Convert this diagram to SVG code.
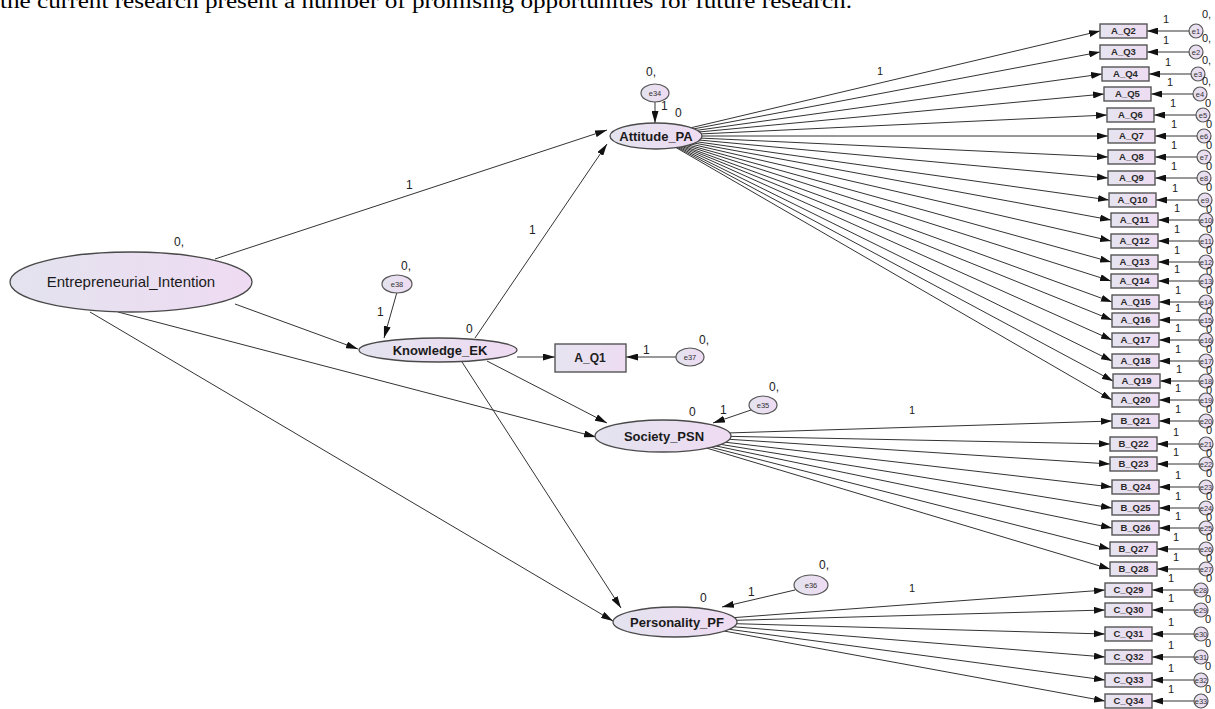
<svg xmlns="http://www.w3.org/2000/svg" width="1215" height="709" viewBox="0 0 1215 709">
<defs>
<linearGradient id="g" x1="0" y1="0" x2="1" y2="0"><stop offset="0" stop-color="#e3e3ee"/><stop offset="1" stop-color="#efdbf3"/></linearGradient>
<linearGradient id="gb" x1="0" y1="0" x2="1" y2="0"><stop offset="0" stop-color="#e6e4f0"/><stop offset="1" stop-color="#eedcf2"/></linearGradient>
<marker id="ah" viewBox="0 0 12 7" refX="12" refY="3.5" markerWidth="12" markerHeight="7" markerUnits="userSpaceOnUse" orient="auto"><path d="M0,0 L12,3.5 L0,7 z" fill="#111"/></marker>
<marker id="ahs" viewBox="0 0 11 7" refX="11" refY="3.5" markerWidth="11" markerHeight="7" markerUnits="userSpaceOnUse" orient="auto"><path d="M0,0 L11,3.5 L0,7 z" fill="#111"/></marker>
</defs>
<style>
.lat{fill:url(#g);stroke:#4a4a4a;stroke-width:1.3}
.box{fill:url(#gb);stroke:#555;stroke-width:1.4}
.err{fill:url(#g);stroke:#555;stroke-width:1.2}
.c{stroke:#333;stroke-width:1;fill:none;marker-end:url(#ah)}
.cs{stroke:#333;stroke-width:1;fill:none;marker-end:url(#ahs)}
.lt{font-family:"Liberation Sans",Arial,sans-serif;font-weight:bold;font-size:13px;fill:#1a1a1a;text-anchor:middle}
.bt{font-family:"Liberation Sans",Arial,sans-serif;font-weight:bold;font-size:9.5px;fill:#2a2a2a;text-anchor:middle}
.et{font-family:"Liberation Sans",Arial,sans-serif;font-size:7.5px;fill:#333;text-anchor:middle}
.lb{font-family:"Liberation Sans",Arial,sans-serif;font-size:12px;fill:#222}
.lbs{font-family:"Liberation Sans",Arial,sans-serif;font-size:11px;fill:#222}
</style>
<rect width="1215" height="709" fill="#fff"/>
<text x="0" y="8" font-family="Liberation Serif,'Times New Roman',serif" font-size="20" fill="#000" textLength="852" lengthAdjust="spacingAndGlyphs">the current research present a number of promising opportunities for future research.</text>

<g id="connectors">
<line class="c" x1="215" y1="259" x2="607" y2="130"/>
<line class="c" x1="235" y1="304" x2="358" y2="349"/>
<line class="c" x1="118" y1="312" x2="596" y2="437"/>
<line class="c" x1="90" y1="312" x2="613" y2="621"/>
<line class="c" x1="475" y1="338" x2="607" y2="144"/>
<line class="c" x1="487" y1="361" x2="607" y2="423"/>
<line class="c" x1="462" y1="362" x2="621" y2="608"/>
<line class="c" x1="517" y1="357" x2="555" y2="357"/>
<line class="c" x1="676" y1="357" x2="626" y2="357"/>
<line class="c" x1="655" y1="102" x2="655" y2="123"/>
<line class="c" x1="397" y1="292" x2="384" y2="338"/>
<line class="c" x1="751" y1="410" x2="713" y2="423"/>
<line class="c" x1="795" y1="590" x2="722" y2="607"/>
<line class="cs" x1="656" y1="136" x2="1100" y2="31"/>
<line class="cs" x1="656" y1="136" x2="1100" y2="52"/>
<line class="cs" x1="656" y1="136" x2="1102" y2="74"/>
<line class="cs" x1="656" y1="136" x2="1104" y2="94"/>
<line class="cs" x1="656" y1="136" x2="1107" y2="115"/>
<line class="cs" x1="656" y1="136" x2="1108" y2="136"/>
<line class="cs" x1="656" y1="136" x2="1108" y2="157"/>
<line class="cs" x1="656" y1="136" x2="1108" y2="178"/>
<line class="cs" x1="656" y1="136" x2="1109" y2="200"/>
<line class="cs" x1="656" y1="136" x2="1111" y2="220"/>
<line class="cs" x1="656" y1="136" x2="1111" y2="241"/>
<line class="cs" x1="656" y1="136" x2="1111" y2="262"/>
<line class="cs" x1="656" y1="136" x2="1111" y2="281"/>
<line class="cs" x1="656" y1="136" x2="1112" y2="302"/>
<line class="cs" x1="656" y1="136" x2="1112" y2="320"/>
<line class="cs" x1="656" y1="136" x2="1112" y2="340"/>
<line class="cs" x1="656" y1="136" x2="1112" y2="361"/>
<line class="cs" x1="656" y1="136" x2="1113" y2="381"/>
<line class="cs" x1="656" y1="136" x2="1112" y2="400"/>
<line class="cs" x1="663" y1="435" x2="1112" y2="421"/>
<line class="cs" x1="663" y1="435" x2="1110" y2="444"/>
<line class="cs" x1="663" y1="435" x2="1110" y2="464"/>
<line class="cs" x1="663" y1="435" x2="1112" y2="487"/>
<line class="cs" x1="663" y1="435" x2="1112" y2="508"/>
<line class="cs" x1="663" y1="435" x2="1112" y2="528"/>
<line class="cs" x1="663" y1="435" x2="1110" y2="549"/>
<line class="cs" x1="663" y1="435" x2="1110" y2="569"/>
<line class="cs" x1="675" y1="622" x2="1105" y2="590"/>
<line class="cs" x1="675" y1="622" x2="1105" y2="610"/>
<line class="cs" x1="675" y1="622" x2="1105" y2="634"/>
<line class="cs" x1="675" y1="622" x2="1105" y2="657"/>
<line class="cs" x1="675" y1="622" x2="1105" y2="680"/>
<line class="cs" x1="675" y1="622" x2="1105" y2="701"/>
<line class="cs" x1="1196" y1="31" x2="1147" y2="31"/>
<line class="cs" x1="1196" y1="52" x2="1147" y2="52"/>
<line class="cs" x1="1198" y1="74" x2="1149" y2="74"/>
<line class="cs" x1="1200" y1="94" x2="1151" y2="94"/>
<line class="cs" x1="1203" y1="115" x2="1154" y2="115"/>
<line class="cs" x1="1204" y1="136" x2="1155" y2="136"/>
<line class="cs" x1="1204" y1="157" x2="1155" y2="157"/>
<line class="cs" x1="1204" y1="178" x2="1155" y2="178"/>
<line class="cs" x1="1205" y1="200" x2="1156" y2="200"/>
<line class="cs" x1="1207" y1="220" x2="1158" y2="220"/>
<line class="cs" x1="1207" y1="241" x2="1158" y2="241"/>
<line class="cs" x1="1207" y1="262" x2="1158" y2="262"/>
<line class="cs" x1="1207" y1="281" x2="1158" y2="281"/>
<line class="cs" x1="1207" y1="302" x2="1159" y2="302"/>
<line class="cs" x1="1207" y1="320" x2="1159" y2="320"/>
<line class="cs" x1="1207" y1="340" x2="1159" y2="340"/>
<line class="cs" x1="1207" y1="361" x2="1159" y2="361"/>
<line class="cs" x1="1207" y1="381" x2="1160" y2="381"/>
<line class="cs" x1="1207" y1="400" x2="1159" y2="400"/>
<line class="cs" x1="1207" y1="421" x2="1159" y2="421"/>
<line class="cs" x1="1206" y1="444" x2="1157" y2="444"/>
<line class="cs" x1="1206" y1="464" x2="1157" y2="464"/>
<line class="cs" x1="1207" y1="487" x2="1159" y2="487"/>
<line class="cs" x1="1207" y1="508" x2="1159" y2="508"/>
<line class="cs" x1="1207" y1="528" x2="1159" y2="528"/>
<line class="cs" x1="1206" y1="549" x2="1157" y2="549"/>
<line class="cs" x1="1206" y1="569" x2="1157" y2="569"/>
<line class="cs" x1="1201" y1="590" x2="1152" y2="590"/>
<line class="cs" x1="1201" y1="610" x2="1152" y2="610"/>
<line class="cs" x1="1201" y1="634" x2="1152" y2="634"/>
<line class="cs" x1="1201" y1="657" x2="1152" y2="657"/>
<line class="cs" x1="1201" y1="680" x2="1152" y2="680"/>
<line class="cs" x1="1201" y1="701" x2="1152" y2="701"/>
<text class="lb" x="406" y="189">1</text>
<text class="lb" x="529" y="234">1</text>
<text class="lbs" x="877" y="75">1</text>
<text class="lbs" x="909" y="414">1</text>
<text class="lbs" x="909" y="592">1</text>
<text class="lb" x="661" y="110">1</text>
<text class="lb" x="377" y="316">1</text>
<text class="lb" x="643" y="354">1</text>
<text class="lb" x="720" y="414">1</text>
<text class="lb" x="748" y="596">1</text>
</g>

<g id="EI"><ellipse class="lat" cx="131" cy="282" rx="121" ry="30"/><text x="131" y="287" font-family="Liberation Sans,Arial,sans-serif" font-size="15" fill="#1a1a1a" text-anchor="middle">Entrepreneurial_Intention</text><text class="lb" x="174" y="246">0,</text></g>
<g id="Attitude_PA"><ellipse class="lat" cx="656" cy="136" rx="46" ry="13"/><text class="lt" x="656" y="141">Attitude_PA</text><text class="lb" x="675" y="117">0</text></g>
<g id="Knowledge_EK"><ellipse class="lat" cx="438" cy="350" rx="79" ry="12"/><text class="lt" x="440" y="355">Knowledge_EK</text><text class="lb" x="466" y="333">0</text></g>
<g id="Society_PSN"><ellipse class="lat" cx="663" cy="436" rx="68" ry="16"/><text class="lt" x="664" y="441">Society_PSN</text><text class="lb" x="689" y="416">0</text></g>
<g id="Personality_PF"><ellipse class="lat" cx="675" cy="622" rx="62" ry="15"/><text class="lt" x="677" y="627">Personality_PF</text><text class="lb" x="700" y="602">0</text></g>
<g id="A_Q1"><rect class="box" x="555" y="344" width="71" height="28"/><text x="590" y="362" font-family="Liberation Sans,Arial,sans-serif" font-weight="bold" font-size="12" fill="#222" text-anchor="middle">A_Q1</text></g>
<g id="e34"><ellipse class="err" cx="655" cy="93" rx="14" ry="9"/><text class="et" x="655" y="96">e34</text><text class="lb" x="646" y="76">0,</text></g>
<g id="e38"><ellipse class="err" cx="397" cy="284" rx="15" ry="9"/><text class="et" x="397" y="287">e38</text><text class="lb" x="401" y="270">0,</text></g>
<g id="e37"><ellipse class="err" cx="690" cy="357" rx="14" ry="9"/><text class="et" x="690" y="360">e37</text><text class="lb" x="699" y="344">0,</text></g>
<g id="e35"><ellipse class="err" cx="763" cy="405" rx="14" ry="9"/><text class="et" x="763" y="408">e35</text><text class="lb" x="769" y="391">0,</text></g>
<g id="e36"><ellipse class="err" cx="811" cy="585" rx="17" ry="10"/><text class="et" x="811" y="588">e36</text><text class="lb" x="819" y="569">0,</text></g>

<g id="A_Q2"><rect class="box" x="1100" y="24" width="47" height="14"/><text class="bt" x="1123.5" y="34">A_Q2</text></g>
<g id="A_Q3"><rect class="box" x="1100" y="45" width="47" height="14"/><text class="bt" x="1123.5" y="55">A_Q3</text></g>
<g id="A_Q4"><rect class="box" x="1102" y="67" width="47" height="14"/><text class="bt" x="1125.5" y="77">A_Q4</text></g>
<g id="A_Q5"><rect class="box" x="1104" y="87" width="47" height="14"/><text class="bt" x="1127.5" y="97">A_Q5</text></g>
<g id="A_Q6"><rect class="box" x="1107" y="108" width="47" height="14"/><text class="bt" x="1130.5" y="118">A_Q6</text></g>
<g id="A_Q7"><rect class="box" x="1108" y="129" width="47" height="14"/><text class="bt" x="1131.5" y="139">A_Q7</text></g>
<g id="A_Q8"><rect class="box" x="1108" y="150" width="47" height="14"/><text class="bt" x="1131.5" y="160">A_Q8</text></g>
<g id="A_Q9"><rect class="box" x="1108" y="171" width="47" height="14"/><text class="bt" x="1131.5" y="181">A_Q9</text></g>
<g id="A_Q10"><rect class="box" x="1109" y="193" width="47" height="14"/><text class="bt" x="1132.5" y="203">A_Q10</text></g>
<g id="A_Q11"><rect class="box" x="1111" y="213" width="47" height="14"/><text class="bt" x="1134.5" y="223">A_Q11</text></g>
<g id="A_Q12"><rect class="box" x="1111" y="234" width="47" height="14"/><text class="bt" x="1134.5" y="244">A_Q12</text></g>
<g id="A_Q13"><rect class="box" x="1111" y="255" width="47" height="14"/><text class="bt" x="1134.5" y="265">A_Q13</text></g>
<g id="A_Q14"><rect class="box" x="1111" y="274" width="47" height="14"/><text class="bt" x="1134.5" y="284">A_Q14</text></g>
<g id="A_Q15"><rect class="box" x="1112" y="295" width="47" height="14"/><text class="bt" x="1135.5" y="305">A_Q15</text></g>
<g id="A_Q16"><rect class="box" x="1112" y="313" width="47" height="14"/><text class="bt" x="1135.5" y="323">A_Q16</text></g>
<g id="A_Q17"><rect class="box" x="1112" y="333" width="47" height="14"/><text class="bt" x="1135.5" y="343">A_Q17</text></g>
<g id="A_Q18"><rect class="box" x="1112" y="354" width="47" height="14"/><text class="bt" x="1135.5" y="364">A_Q18</text></g>
<g id="A_Q19"><rect class="box" x="1113" y="374" width="47" height="14"/><text class="bt" x="1136.5" y="384">A_Q19</text></g>
<g id="A_Q20"><rect class="box" x="1112" y="393" width="47" height="14"/><text class="bt" x="1135.5" y="403">A_Q20</text></g>
<g id="B_Q21"><rect class="box" x="1112" y="414" width="47" height="14"/><text class="bt" x="1135.5" y="424">B_Q21</text></g>
<g id="B_Q22"><rect class="box" x="1110" y="437" width="47" height="14"/><text class="bt" x="1133.5" y="447">B_Q22</text></g>
<g id="B_Q23"><rect class="box" x="1110" y="457" width="47" height="14"/><text class="bt" x="1133.5" y="467">B_Q23</text></g>
<g id="B_Q24"><rect class="box" x="1112" y="480" width="47" height="14"/><text class="bt" x="1135.5" y="490">B_Q24</text></g>
<g id="B_Q25"><rect class="box" x="1112" y="501" width="47" height="14"/><text class="bt" x="1135.5" y="511">B_Q25</text></g>
<g id="B_Q26"><rect class="box" x="1112" y="521" width="47" height="14"/><text class="bt" x="1135.5" y="531">B_Q26</text></g>
<g id="B_Q27"><rect class="box" x="1110" y="542" width="47" height="14"/><text class="bt" x="1133.5" y="552">B_Q27</text></g>
<g id="B_Q28"><rect class="box" x="1110" y="562" width="47" height="14"/><text class="bt" x="1133.5" y="572">B_Q28</text></g>
<g id="C_Q29"><rect class="box" x="1105" y="583" width="47" height="14"/><text class="bt" x="1128.5" y="593">C_Q29</text></g>
<g id="C_Q30"><rect class="box" x="1105" y="603" width="47" height="14"/><text class="bt" x="1128.5" y="613">C_Q30</text></g>
<g id="C_Q31"><rect class="box" x="1105" y="627" width="47" height="14"/><text class="bt" x="1128.5" y="637">C_Q31</text></g>
<g id="C_Q32"><rect class="box" x="1105" y="650" width="47" height="14"/><text class="bt" x="1128.5" y="660">C_Q32</text></g>
<g id="C_Q33"><rect class="box" x="1105" y="673" width="47" height="14"/><text class="bt" x="1128.5" y="683">C_Q33</text></g>
<g id="C_Q34"><rect class="box" x="1105" y="694" width="47" height="14"/><text class="bt" x="1128.5" y="704">C_Q34</text></g>

<g id="errors">
<g id="e1"><circle class="err" cx="1196" cy="31" r="7"/><text class="et" x="1196" y="34">e1</text><text class="lbs" x="1163" y="23">1</text><text class="lbs" x="1202" y="18">0,</text></g>
<g id="e2"><circle class="err" cx="1196" cy="52" r="7"/><text class="et" x="1196" y="55">e2</text><text class="lbs" x="1163" y="44">1</text><text class="lbs" x="1202" y="42">0,</text></g>
<g id="e3"><circle class="err" cx="1198" cy="74" r="7"/><text class="et" x="1198" y="77">e3</text><text class="lbs" x="1165" y="66">1</text><text class="lbs" x="1202" y="64">0,</text></g>
<g id="e4"><circle class="err" cx="1200" cy="94" r="7"/><text class="et" x="1200" y="97">e4</text><text class="lbs" x="1167" y="86">1</text><text class="lbs" x="1202" y="85">0,</text><text class="lbs" x="1205" y="107">0</text></g>
<g id="e5"><circle class="err" cx="1203" cy="115" r="7"/><text class="et" x="1203" y="118">e5</text><text class="lbs" x="1170" y="107">1</text><text class="lbs" x="1206" y="128">0</text></g>
<g id="e6"><circle class="err" cx="1204" cy="136" r="7"/><text class="et" x="1204" y="139">e6</text><text class="lbs" x="1171" y="128">1</text><text class="lbs" x="1206" y="149">0</text></g>
<g id="e7"><circle class="err" cx="1204" cy="157" r="7"/><text class="et" x="1204" y="160">e7</text><text class="lbs" x="1171" y="149">1</text><text class="lbs" x="1206" y="170">0</text></g>
<g id="e8"><circle class="err" cx="1204" cy="178" r="7"/><text class="et" x="1204" y="181">e8</text><text class="lbs" x="1171" y="170">1</text><text class="lbs" x="1206" y="191">0</text></g>
<g id="e9"><circle class="err" cx="1205" cy="200" r="7"/><text class="et" x="1205" y="203">e9</text><text class="lbs" x="1172" y="192">1</text><text class="lbs" x="1206" y="213">0</text></g>
<g id="e10"><circle class="err" cx="1206" cy="220" r="7"/><text class="et" x="1206" y="223">e10</text><text class="lbs" x="1174" y="212">1</text><text class="lbs" x="1206" y="233">0</text></g>
<g id="e11"><circle class="err" cx="1206" cy="241" r="7"/><text class="et" x="1206" y="244">e11</text><text class="lbs" x="1174" y="233">1</text><text class="lbs" x="1206" y="254">0</text></g>
<g id="e12"><circle class="err" cx="1206" cy="262" r="7"/><text class="et" x="1206" y="265">e12</text><text class="lbs" x="1174" y="254">1</text><text class="lbs" x="1206" y="275">0</text></g>
<g id="e13"><circle class="err" cx="1206" cy="281" r="7"/><text class="et" x="1206" y="284">e13</text><text class="lbs" x="1174" y="273">1</text><text class="lbs" x="1206" y="294">0</text></g>
<g id="e14"><circle class="err" cx="1206" cy="302" r="7"/><text class="et" x="1206" y="305">e14</text><text class="lbs" x="1175" y="294">1</text><text class="lbs" x="1206" y="315">0</text></g>
<g id="e15"><circle class="err" cx="1206" cy="320" r="7"/><text class="et" x="1206" y="323">e15</text><text class="lbs" x="1175" y="312">1</text><text class="lbs" x="1206" y="333">0</text></g>
<g id="e16"><circle class="err" cx="1206" cy="340" r="7"/><text class="et" x="1206" y="343">e16</text><text class="lbs" x="1175" y="332">1</text><text class="lbs" x="1206" y="353">0</text></g>
<g id="e17"><circle class="err" cx="1206" cy="361" r="7"/><text class="et" x="1206" y="364">e17</text><text class="lbs" x="1175" y="353">1</text><text class="lbs" x="1206" y="374">0</text></g>
<g id="e18"><circle class="err" cx="1206" cy="381" r="7"/><text class="et" x="1206" y="384">e18</text><text class="lbs" x="1176" y="373">1</text><text class="lbs" x="1206" y="394">0</text></g>
<g id="e19"><circle class="err" cx="1206" cy="400" r="7"/><text class="et" x="1206" y="403">e19</text><text class="lbs" x="1175" y="392">1</text><text class="lbs" x="1206" y="413">0</text></g>
<g id="e20"><circle class="err" cx="1206" cy="421" r="7"/><text class="et" x="1206" y="424">e20</text><text class="lbs" x="1175" y="413">1</text><text class="lbs" x="1206" y="434">0</text></g>
<g id="e21"><circle class="err" cx="1206" cy="444" r="7"/><text class="et" x="1206" y="447">e21</text><text class="lbs" x="1173" y="436">1</text><text class="lbs" x="1206" y="457">0</text></g>
<g id="e22"><circle class="err" cx="1206" cy="464" r="7"/><text class="et" x="1206" y="467">e22</text><text class="lbs" x="1173" y="456">1</text><text class="lbs" x="1206" y="477">0</text></g>
<g id="e23"><circle class="err" cx="1206" cy="487" r="7"/><text class="et" x="1206" y="490">e23</text><text class="lbs" x="1175" y="479">1</text><text class="lbs" x="1206" y="500">0</text></g>
<g id="e24"><circle class="err" cx="1206" cy="508" r="7"/><text class="et" x="1206" y="511">e24</text><text class="lbs" x="1175" y="500">1</text><text class="lbs" x="1206" y="521">0</text></g>
<g id="e25"><circle class="err" cx="1206" cy="528" r="7"/><text class="et" x="1206" y="531">e25</text><text class="lbs" x="1175" y="520">1</text><text class="lbs" x="1206" y="541">0</text></g>
<g id="e26"><circle class="err" cx="1206" cy="549" r="7"/><text class="et" x="1206" y="552">e26</text><text class="lbs" x="1173" y="541">1</text><text class="lbs" x="1206" y="562">0</text></g>
<g id="e27"><circle class="err" cx="1206" cy="569" r="7"/><text class="et" x="1206" y="572">e27</text><text class="lbs" x="1173" y="561">1</text><text class="lbs" x="1206" y="582">0</text></g>
<g id="e28"><circle class="err" cx="1201" cy="590" r="7"/><text class="et" x="1201" y="593">e28</text><text class="lbs" x="1168" y="582">1</text><text class="lbs" x="1205" y="603">0</text></g>
<g id="e29"><circle class="err" cx="1201" cy="610" r="7"/><text class="et" x="1201" y="613">e29</text><text class="lbs" x="1168" y="602">1</text><text class="lbs" x="1205" y="623">0</text></g>
<g id="e30"><circle class="err" cx="1201" cy="634" r="7"/><text class="et" x="1201" y="637">e30</text><text class="lbs" x="1168" y="626">1</text><text class="lbs" x="1205" y="647">0</text></g>
<g id="e31"><circle class="err" cx="1201" cy="657" r="7"/><text class="et" x="1201" y="660">e31</text><text class="lbs" x="1168" y="649">1</text><text class="lbs" x="1205" y="670">0</text></g>
<g id="e32"><circle class="err" cx="1201" cy="680" r="7"/><text class="et" x="1201" y="683">e32</text><text class="lbs" x="1168" y="672">1</text><text class="lbs" x="1205" y="693">0</text></g>
<g id="e33"><circle class="err" cx="1201" cy="701" r="7"/><text class="et" x="1201" y="704">e33</text><text class="lbs" x="1168" y="693">1</text></g>
</g>
</svg>
